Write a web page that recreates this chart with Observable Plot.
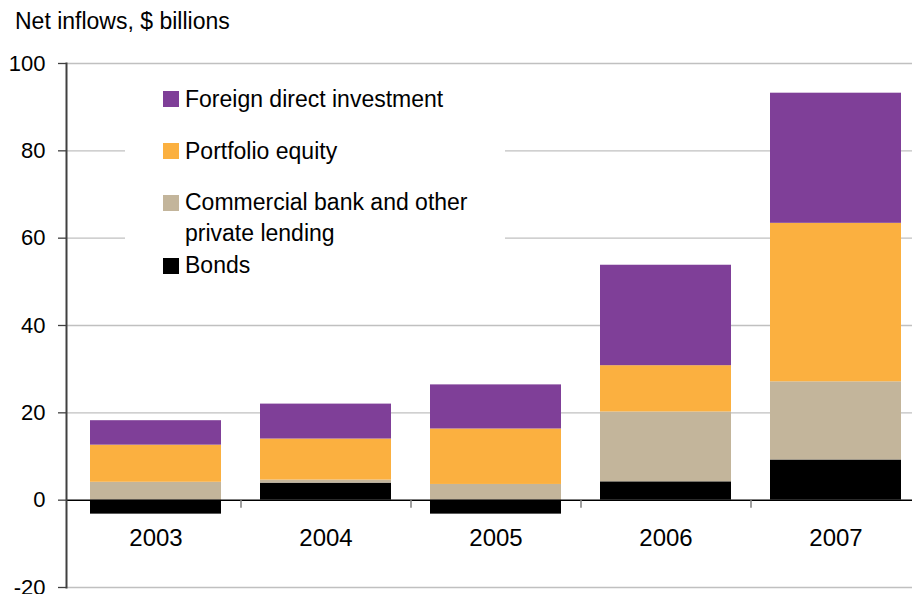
<!DOCTYPE html>
<html><head><meta charset="utf-8">
<script src="https://cdn.jsdelivr.net/npm/d3@7"></script>
<script src="https://cdn.jsdelivr.net/npm/@observablehq/plot@0.6"></script>
<style>
body{margin:0;background:#fff;font-family:"Liberation Sans",Arial,sans-serif;}
#wrap{position:relative;width:912px;height:594px;overflow:hidden;background:#fff;}
#title{height:40px;font-size:23px;padding-left:15px;box-sizing:border-box;padding-top:8px;line-height:normal;color:#000;}
#legend{position:absolute;left:125px;top:70px;width:380px;height:220px;background:#fff;}
.sw{position:absolute;left:38px;width:16px;height:16px;}
.lb{position:absolute;left:60px;font-size:23px;line-height:23px;white-space:nowrap;color:#000;}
</style></head><body>
<div id="wrap"><div id="title">Net inflows, $ billions</div><div id="chart"></div><div id="legend"></div></div>
<script>
const years = ["2003", "2004", "2005", "2006", "2007"];
const bonds = [-3.2, 3.9, -3.2, 4.2, 9.2];
const commercial = [4.1, 0.7, 3.6, 16.0, 17.9];
const portfolio = [8.5, 9.4, 12.7, 10.6, 36.3];
const fdi = [5.6, 8.0, 10.1, 23.0, 29.8];
const series = ["Bonds", "Commercial bank and other private lending", "Portfolio equity", "Foreign direct investment"];
const colors = ["#000000", "#C3B59B", "#FBB040", "#7F3F98"];
const yTicks = [-20, 0, 20, 40, 60, 80, 100];

const seriesValues = [bonds, commercial, portfolio, fdi];
const data = [];
years.forEach((yr, i) => {
  seriesValues.forEach((arr, j) => data.push({year: yr, series: series[j], value: arr[i]}));
});

const font = '"Liberation Sans", Arial, sans-serif';
const chart = Plot.plot({
  width: 912,
  height: 554,
  marginTop: 23,
  marginBottom: 7,
  marginLeft: 66,
  marginRight: 0,
  style: {fontFamily: font, fontSize: "22px", color: "#000", background: "transparent"},
  x: {domain: years, range: [70, 920], paddingInner: 0.23, paddingOuter: 0.115, axis: null},
  y: {domain: [-20, 100], axis: null},
  color: {domain: series, range: colors},
  marks: [
    Plot.ruleY(yTicks.filter(d => d !== 0), {stroke: "#c0c0c0", strokeWidth: 1.3}),
    Plot.barY(data, {x: "year", y: "value", fill: "series"}),
    Plot.ruleY([0], {stroke: "#000", strokeWidth: 1.5}),
    Plot.ruleX(years.slice(0, -1), {x: d => d, dx: 85, y1: 0, y2: 0, insetBottom: -8, stroke: "#808080", strokeWidth: 1.5}),
    Plot.text(years, {x: d => d, y: 0, dy: 38, fontSize: 24, fill: "#000"}),
    Plot.axisY({ticks: yTicks, label: null, tickSize: 8, tickPadding: 13, fontSize: 22, stroke: "#404040", fill: "#000", strokeWidth: 1.3, tickFormat: d => String(d)}),
    Plot.frame({anchor: "left", stroke: "#404040", strokeWidth: 2})
  ]
});
document.getElementById("chart").appendChild(chart);

// Legend (reverse stacking order)
const legend = document.getElementById("legend");
const rows = [
  {i: 3, swTop: 21, lines: [{top: 17.5, text: "Foreign direct investment"}]},
  {i: 2, swTop: 73, lines: [{top: 69.5, text: "Portfolio equity"}]},
  {i: 1, swTop: 125, lines: [{top: 120.5, text: "Commercial bank and other"}, {top: 151.5, text: "private lending"}]},
  {i: 0, swTop: 188, lines: [{top: 183.5, text: "Bonds"}]}
];
rows.forEach(r => {
  const sw = document.createElement("div");
  sw.className = "sw";
  sw.style.top = r.swTop + "px";
  sw.style.background = colors[r.i];
  legend.appendChild(sw);
  r.lines.forEach(l => {
    const t = document.createElement("div");
    t.className = "lb";
    t.style.top = l.top + "px";
    t.textContent = l.text;
    legend.appendChild(t);
  });
});
</script>
</body></html>
